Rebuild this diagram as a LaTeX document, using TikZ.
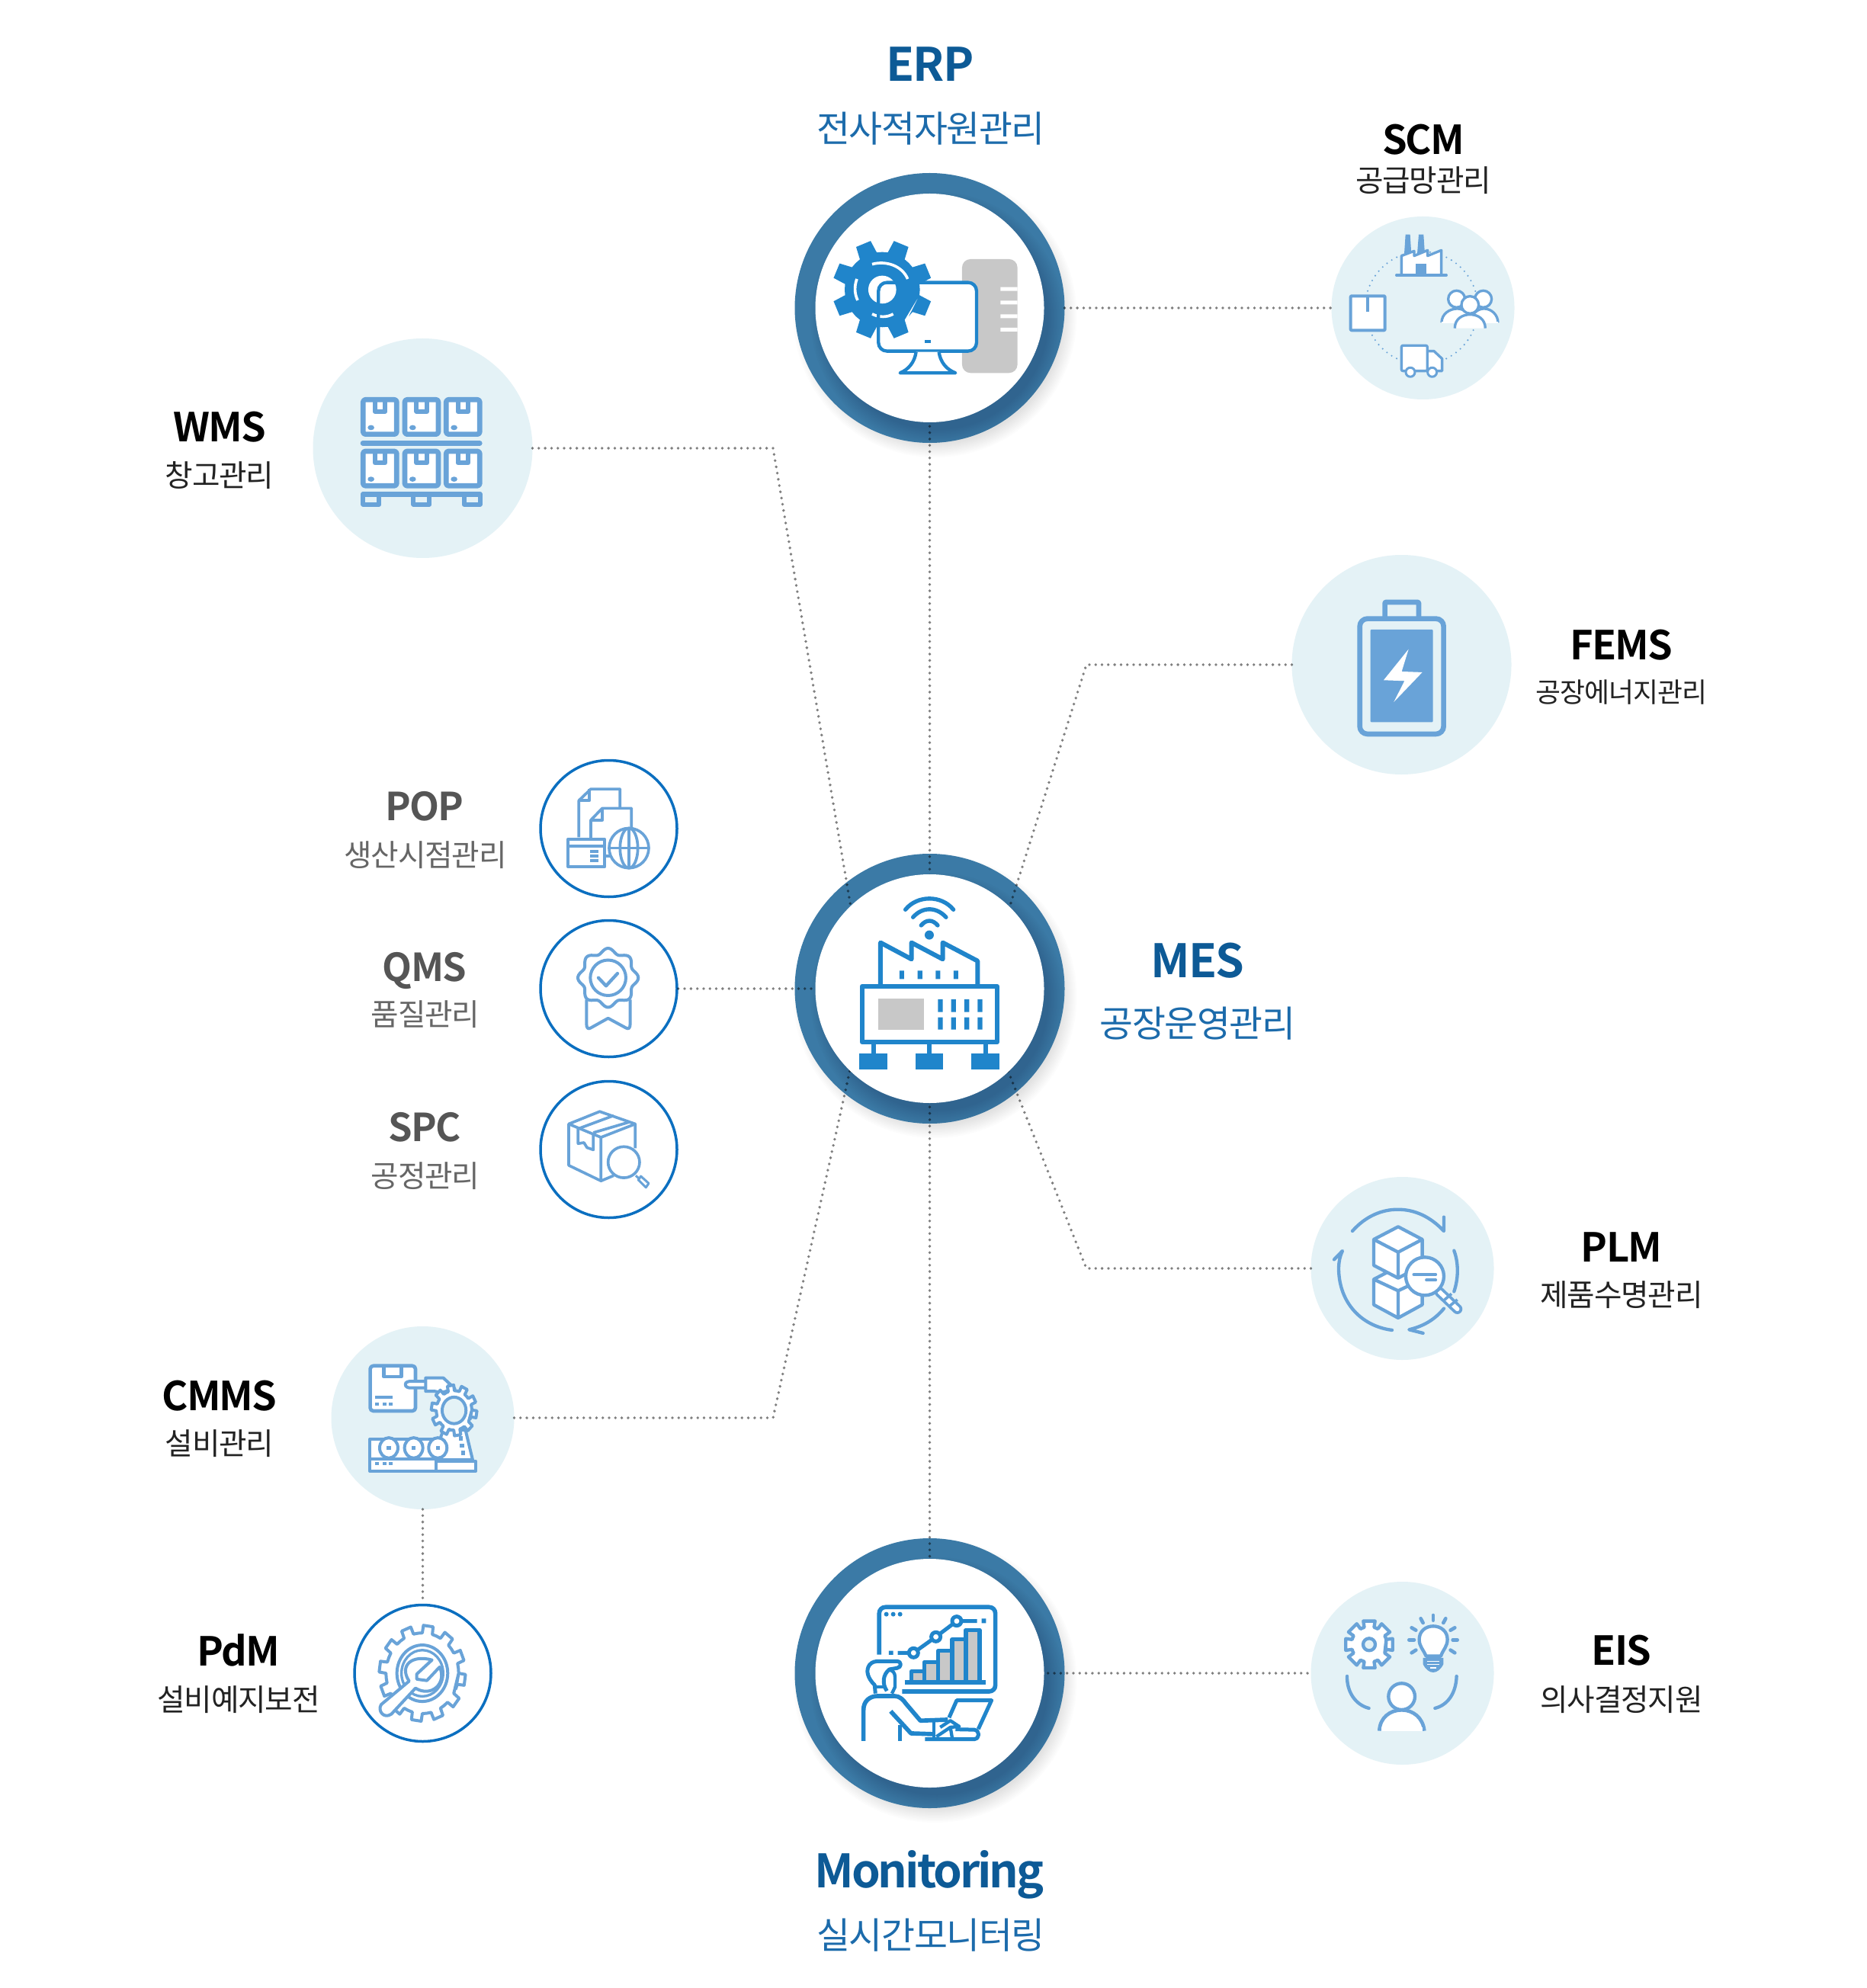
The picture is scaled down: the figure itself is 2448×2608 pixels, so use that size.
\documentclass[tikz,border=0pt]{standalone}
\usepackage{fontspec}
\setmainfont{Noto Sans CJK KR}
\newfontfamily\headfont[LetterSpace=-3.5]{Noto Sans CJK KR Bold}
\newfontfamily\monfont[LetterSpace=-5]{Noto Sans CJK KR Bold}
\newfontfamily\subfont[LetterSpace=-3]{Noto Sans CJK KR}
\definecolor{ringc}{HTML}{3B7AA6}
\definecolor{ringd}{HTML}{12304F}
\definecolor{lightc}{HTML}{E4F2F6}
\definecolor{iconl}{HTML}{69A3D8}
\definecolor{icond}{HTML}{2085CB}
\definecolor{outl}{HTML}{0B6FC0}
\definecolor{grayf}{HTML}{C8C8C8}
\definecolor{headb}{HTML}{0D5A96}
\definecolor{subb}{HTML}{1C6BAB}
\definecolor{headg}{HTML}{555555}
\definecolor{subg}{HTML}{666666}
\definecolor{subk}{HTML}{222222}
\tikzset{
  zoomed/.style={x=0.03333mm,y=-0.03333mm},
  w/.style={line width=#1*0.03333mm},
  ringnode/.style={circle,fill=ringc,minimum size=35.4mm,inner sep=0pt,outer sep=0pt},
  whited/.style={circle,fill=white,minimum size=30mm,inner sep=0pt,outer sep=0pt},
  lightbig/.style={circle,fill=lightc,minimum size=28.8mm,inner sep=0pt,outer sep=0pt},
  lightsmall/.style={circle,fill=lightc,minimum size=24mm,inner sep=0pt,outer sep=0pt},
  outlined/.style={circle,draw=outl,line width=.35mm,fill=white,minimum size=17.9mm,inner sep=0pt},
  conn/.style={draw=black,draw opacity=.5,line width=.38mm,line cap=round,dash pattern=on 0pt off .83mm},
  tA/.style={inner sep=0pt,yshift=-.15mm,text=headb,font=\headfont\fontsize{17.2}{18}\selectfont},
  sA/.style={inner sep=0pt,yshift=-.25mm,text=subb,font=\subfont\fontsize{13.6}{16}\selectfont},
  tB/.style={inner sep=0pt,yshift=-.1mm,text=black,font=\headfont\fontsize{14.9}{16}\selectfont},
  sB/.style={inner sep=0pt,yshift=-.2mm,text=subk,font=\subfont\fontsize{11.3}{14}\selectfont},
  tC/.style={inner sep=0pt,yshift=-.1mm,text=headg,font=\headfont\fontsize{14.4}{16}\selectfont},
  sC/.style={inner sep=0pt,yshift=-.2mm,text=subg,font=\subfont\fontsize{11.3}{14}\selectfont},
  li/.style={draw=iconl,line join=round,w=#1},
  da/.style={draw=icond,line join=round,w=#1},
}
\newcommand\gearpath[6]{(#4-#5:#1) \foreach[evaluate=\k as \a using #4+360/#3*\k] \k in {1,...,#3}{ -- (\a-#5:#1) -- (\a-#6:#2) -- (\a+#6:#2) -- (\a+#5:#1) -- (\a+180/#3:#1) } -- cycle}
\newcommand\bigring[3]{%
  \foreach \r in {0,2,...,18}{\fill[black,opacity=.012] (#2+7,#3+10) circle (168+\r);}
  \node[ringnode] (#1) at (#2,#3) {};
  \begin{scope}
    \clip (#2,#3) circle (177);
    \foreach \r in {0,2,...,20}{\fill[ringd,opacity=.024] (#2+10,#3+14) circle (146+\r);}
  \end{scope}}
\begin{document}
\begin{tikzpicture}[x=0.1mm,y=-0.1mm]
\useasboundingbox (0,0) rectangle (2448,2608);
\fill[white] (0,0) rectangle (2448,2608);
% circles under the connectors
\bigring{erp}{1219.5}{404}
\bigring{mes}{1219.5}{1297}
\bigring{mon}{1219.5}{2195}
\node[lightsmall] (scm) at (1866.5,404) {};
\node[lightbig] (wms) at (554.5,588) {};
\node[lightbig] (fems) at (1838.5,872) {};
\node[lightsmall] (plm) at (1839.5,1664) {};
\node[lightsmall] (eis) at (1839.5,2195) {};
\node[lightsmall] (cmms) at (554.5,1860) {};
\node[outlined] (pop) at (798.5,1087) {};
\node[outlined] (qms) at (798.5,1297) {};
\node[outlined] (spc) at (798.5,1508) {};
\node[outlined] (pdm) at (554.5,2195) {};
% connectors
\coordinate (b1) at (1014,588);
\coordinate (b2) at (1425,872);
\coordinate (b3) at (1425,1664);
\coordinate (b4) at (1014,1860);
\draw[conn] (erp.east) -- (scm.west);
\draw[conn,shorten <=-3mm,shorten >=-3mm] (erp.south) -- (mes.north);
\draw[conn,shorten <=-3mm,shorten >=-3mm] (mes.south) -- (mon.north);
\draw[conn,shorten >=-3.5mm] (wms.east) -- (b1) -- (mes.128);
\draw[conn,shorten >=-3.5mm] (fems.west) -- (b2) -- (mes.50.5);
\draw[conn,shorten >=-3.5mm] (plm.west) -- (b3) -- (mes.-50.3);
\draw[conn,shorten >=-3.5mm] (cmms.east) -- (b4) -- (mes.231.6);
\draw[conn,shorten >=-3mm] (qms.east) -- (mes.west);
\draw[conn,shorten <=-3mm] (mon.east) -- (eis.west);
\draw[conn] (cmms.south) -- (pdm.north);
\node[whited] (erpw) at (erp.center) {};
\node[whited] (mesw) at (mes.center) {};
\node[whited] (monw) at (mon.center) {};
% ERP icon
\begin{scope}[shift={(1020,210)},zoomed]
\fill[grayf,rounded corners=1.1mm] (726,390) rectangle (944,838);
\fill[white] (877,500) rectangle (944,515) (877,553) rectangle (944,568) (877,607) rectangle (944,622) (877,660) rectangle (944,675);
\fill[white,rounded corners=1.1mm] (397,482) rectangle (783,752);
\fill[icond,shift={(412,510)}] \gearpath{148}{197}{8}{22.5}{14}{9};
\draw[white,w=11] (372,410) .. controls (425,395) and (490,415) .. (512,468);
\draw[white,w=11] (312,468) .. controls (302,495) and (302,525) .. (315,552);
\draw[white,w=11] (372,606) .. controls (400,620) and (430,620) .. (455,606);
\fill[white] (412,510) circle (55);
\draw[da=13,rounded corners=1.1mm] (397,482) rectangle (783,752);
\fill[icond] (579,708) rectangle (602,720);
\draw[da=13,fill=white] (545,755) .. controls (540,795) and (515,825) .. (482,838) -- (700,838) .. controls (665,825) and (640,795) .. (635,755);
\end{scope}
% MES icon
\begin{scope}[shift={(1020,1100)},zoomed]
\draw[icond,w=16,line cap=round] (503,280) .. controls (550,222) and (645,222) .. (692,280);
\draw[icond,w=16,line cap=round] (533,310) .. controls (570,268) and (625,268) .. (663,310);
\draw[icond,w=16,line cap=round] (565,342) .. controls (585,318) and (610,318) .. (630,342);
\fill[icond] (597,380) circle (18);
\draw[da=18] (405,575) -- (405,410) -- (527,475) -- (527,410) -- (650,475) -- (650,410) -- (787,482) -- (787,575);
\fill[icond] (480,520) rectangle (498,553) (551,520) rectangle (570,553) (622,520) rectangle (640,553) (693,520) rectangle (711,553);
\draw[da=18] (332,582) rectangle (864,802);
\fill[grayf] (396,630) rectangle (576,752);
\foreach \x in {631,683,735,787}{\fill[icond] (\x,633) rectangle (\x+19,683) (\x,704) rectangle (\x+19,752);}
\foreach \x in {377,597,818}{
  \draw[da=18] (\x,802) -- (\x,850);
  \fill[icond] (\x-55,845) rectangle (\x+55,908);}
\end{scope}
% Monitoring icon
\begin{scope}[shift={(1020,2000)},zoomed]
\draw[da=17,rounded corners=.8mm] (400,512) -- (400,325) -- (857,325) -- (857,657) -- (490,657);
\foreach \x in {428,455,482}{\fill[icond] (\x,353) circle (9);}
\fill[icond] (438,497) rectangle (455,513) (803,370) rectangle (820,388);
\foreach \x/\y in {527/578,578/541,632/497,687/452,741/415}{\draw[da=16,fill=grayf] (\x,621) -- (\x,\y) -- (\x+54,\y) -- (\x+54,621);}
\draw[da=17] (500,621) -- (820,621);
\draw[da=15] (473,505) -- (535,505) -- (623,442) -- (705,380) -- (785,380);
\foreach \x/\y in {535/505,623/442,705/380}{\draw[da=15,fill=white] (\x,\y) circle (18);}
\draw[da=15] (385,665) -- (382,632) .. controls (355,605) and (345,575) .. (362,552) .. controls (372,540) and (385,538) .. (400,538) -- (470,538) .. controls (490,540) and (488,562) .. (470,565) -- (440,570) .. controls (415,590) and (410,625) .. (430,655);
\draw[da=13] (440,572) .. controls (455,575) and (462,585) .. (462,600) -- (462,640) -- (450,665);
\draw[da=13] (385,640) -- (425,640);
\draw[da=17] (338,852) -- (338,730) .. controls (338,695) and (362,675) .. (395,675) -- (460,675) .. controls (480,675) and (495,690) .. (505,705) -- (562,772) -- (670,768);
\draw[da=17] (445,735) -- (525,822) -- (615,825);
\draw[da=17] (482,790) -- (482,852);
\draw[da=15] (675,760) -- (705,692) -- (842,692) -- (790,805);
\draw[da=15,rounded corners=.5mm] (580,845) -- (790,845) -- (790,808) -- (700,806);
\draw[da=13] (615,770) -- (615,845);
\draw[da=13] (640,798) -- (680,772) -- (715,795) -- (680,798);
\draw[da=13] (625,835) -- (680,798) -- (688,845);
\end{scope}
% SCM icon
\begin{scope}[shift={(1720,270)},zoomed]
\draw[iconl,w=7,line cap=round,dash pattern=on 0pt off .75mm] (434,402) circle (222);
\fill[iconl] (366,190) -- (371,113) -- (389,113) -- (394,190) -- cycle (417,190) -- (423,113) -- (442,113) -- (447,190) -- cycle;
\draw[li=10,fill=white] (355,273) -- (355,197) -- (405,178) -- (405,197) -- (458,175) -- (458,197) -- (512,175) -- (512,273) -- cycle;
\fill[iconl] (412,227) rectangle (453,270);
\draw[li=10,line cap=round] (335,273) -- (532,273);
\draw[li=12,fill=white,rounded corners=.1mm] (155,355) rectangle (290,490);
\draw[li=12] (222,358) -- (222,416);
\draw[li=10,fill=white] (572,367) circle (33);
\draw[li=10,fill=white] (677,367) circle (33);
\draw[li=10,fill=white] (513,460) .. controls (513,425) and (545,405) .. (575,405) .. controls (600,405) and (630,425) .. (635,460);
\draw[li=10,fill=white] (625,460) .. controls (630,425) and (655,405) .. (680,405) .. controls (710,405) and (735,430) .. (735,460);
\fill[white] (513,455) rectangle (735,461);
\draw[li=10,fill=white] (625,390) circle (34);
\draw[li=10,fill=white] (565,482) .. controls (565,445) and (595,428) .. (625,428) .. controls (655,428) and (685,445) .. (685,482);
\draw[li=10,fill=white] (457,572) -- (483,572) -- (515,602) -- (515,650) -- (457,650) -- cycle;
\draw[li=10,fill=white,rounded corners=.2mm] (355,550) rectangle (457,650);
\draw[li=9,fill=white] (390,655) circle (18);
\draw[li=9,fill=white] (476,655) circle (18);
\end{scope}
% WMS icon
\begin{scope}[shift={(400,430)},zoomed]
\foreach \y in {283,486}{\foreach \x in {229,393,556}{
  \draw[li=20,fill=white,rounded corners=.3mm] (\x,\y) rectangle (\x+132,\y+136);
  \draw[li=18] (\x+46,\y) -- (\x+46,\y+46) -- (\x+87,\y+46) -- (\x+87,\y);
  \fill[iconl] (\x+31,\y+110) ellipse [x radius=13,y radius=10];}}
\draw[li=20,line cap=round] (228,454) -- (688,454);
\draw[li=20] (228,655) -- (688,655);
\foreach \x in {229,427,626}{\draw[li=18] (\x,655) rectangle (\x+63,695);}
\end{scope}
% FEMS icon
\begin{scope}[shift={(1680,720)},zoomed]
\draw[li=20,rounded corners=.1mm] (410,275) -- (410,210) -- (543,210) -- (543,275);
\draw[li=20,rounded corners=1mm] (311,275) rectangle (641,729);
\fill[iconl,rounded corners=.1mm] (353,318) rectangle (599,682);
\fill[white] (503,395) -- (405,517) -- (487,520) -- (445,603) -- (557,486) -- (476,483) -- cycle;
\end{scope}
% PLM icon
\begin{scope}[shift={(1700,1530)},zoomed]
\draw[iconl,w=13,line cap=round,line join=round] (222,255) .. controls (275,195) and (340,170) .. (400,170) .. controls (470,170) and (530,200) .. (582,255) -- (582,200);
\draw[iconl,w=13,line cap=round,line join=round] (378,645) .. controls (260,630) and (170,540) .. (168,405) .. controls (168,380) and (172,355) .. (183,333) -- (150,367);
\draw[iconl,w=13,line cap=round] (622,332) .. controls (640,380) and (640,440) .. (622,493);
\draw[iconl,w=13,line cap=round,line join=round] (582,560) .. controls (545,605) and (500,630) .. (445,643) -- (500,657);
\draw[li=13,fill=white] (306,445) -- (402,395) -- (497,445) -- (497,545) -- (402,597) -- (306,545) -- cycle;
\draw[li=13] (306,445) -- (402,490) -- (497,445) (402,490) -- (402,597);
\draw[li=13,fill=white] (402,238) -- (497,288) -- (497,390) -- (402,440) -- (306,390) -- (306,288) -- cycle;
\draw[li=13] (306,288) -- (402,338) -- (497,288) (402,338) -- (402,440);
\draw[iconl,w=40,line cap=round] (565,495) -- (635,562);
\draw[white,w=17,line cap=round] (565,495) -- (635,562);
\draw[iconl,w=11] (582,528) -- (612,502) (605,550) -- (635,525);
\draw[li=13,fill=white] (507,433) circle (75);
\draw[li=11,line cap=round] (463,426) -- (550,426) (513,448) -- (550,448);
\end{scope}
% EIS icon
\begin{scope}[shift={(1700,2060)},zoomed]
\draw[li=13,fill=white,shift={(288,292)}] \gearpath{70}{95}{8}{0}{16}{14};
\draw[li=13,fill=lightc] (288,292) circle (24);
\draw[li=13,fill=white] (512,338) .. controls (500,310) and (485,300) .. (485,272) .. controls (485,240) and (510,220) .. (540,220) .. controls (570,220) and (596,240) .. (596,272) .. controls (596,300) and (580,310) .. (570,338) -- cycle;
\fill[iconl] (500,345) -- (580,345) -- (580,370) .. controls (570,390) and (555,402) .. (540,402) .. controls (525,402) and (510,390) .. (500,370) -- cycle;
\draw[white,w=4] (515,358) -- (565,358) (515,370) -- (565,370);
\draw[white,w=5] (528,384) -- (552,384);
\foreach \a/\b/\c/\d in {540/177/540/197,491/190/500/207,589/190/580/207,455/226/472/236,625/226/608/236,445/274/465/274,635/274/617/274,455/325/472/314,625/325/608/314}{\draw[li=14,line cap=round] (\a,\b) -- (\c,\d);}
\draw[li=13,line cap=round] (201,417) .. controls (200,480) and (235,530) .. (287,543);
\draw[li=13,line cap=round] (632,417) .. controls (630,480) and (600,530) .. (547,543);
\draw[li=14,fill=white] (328,632) .. controls (330,580) and (370,550) .. (416,550) .. controls (460,550) and (500,580) .. (505,632);
\fill[white] (335,632) rectangle (498,618);
\draw[li=13,fill=white] (416,497) circle (52);
\end{scope}
% POP, QMS, SPC icons
\begin{scope}[shift={(690,980)},x=0.03333mm,y=-0.0408mm]
\draw[li=11] (208,290) -- (208,172) -- (255,135) -- (370,135) -- (370,195);
\draw[li=11] (208,172) -- (250,172) -- (250,135);
\draw[li=11] (255,295) -- (255,235) -- (300,197) -- (415,197) -- (415,265);
\draw[li=11] (255,235) -- (300,235) -- (300,197);
\draw[li=11] (165,297) rectangle (310,385);
\draw[li=11] (165,318) -- (310,318);
\foreach \y in {335,350,365}{\fill[iconl] (252,\y-5) rectangle (285,\y+5);}
\draw[li=11] (310,350) -- (335,350);
\draw[li=11,fill=white] (405,325) ellipse [x radius=78,y radius=64];
\draw[li=11] (405,325) ellipse [x radius=35,y radius=64];
\draw[li=11] (405,261) -- (405,389) (327,325) -- (483,325);
% QMS
\draw[li=12] plot[smooth cycle,samples=97,domain=0:356.25] ({323+(110-9*cos(8*\x+180))*cos(\x)},{742+(87-8*cos(8*\x+180))*sin(\x)});
\draw[li=12] (323,742) ellipse [x radius=70,y radius=57];
\draw[li=13,line cap=round] (285,742) -- (315,768) -- (360,728);
\draw[li=12] (238,812) -- (238,890) .. controls (238,905) and (245,908) .. (255,903) -- (323,872) -- (393,903) .. controls (403,908) and (410,905) .. (410,890) -- (410,812);
% SPC
\draw[li=11] (168,1212) -- (295,1255) -- (430,1212) -- (290,1172) -- cycle;
\draw[li=11] (168,1212) -- (168,1345) -- (295,1395) -- (295,1255);
\draw[li=11] (430,1212) -- (430,1290) (295,1395) -- (345,1378);
\draw[li=11] (210,1226) -- (345,1185) (265,1240) -- (410,1205);
\draw[li=11] (205,1228) -- (205,1275) -- (228,1272) -- (240,1288) -- (265,1295) -- (265,1245);
\draw[li=11,fill=white] (385,1335) ellipse [x radius=62,y radius=50];
\draw[li=9] (432,1378) -- (448,1390);
\draw[li=9,fill=white] (452,1380) -- (483,1403) -- (472,1416) -- (442,1392) -- cycle;
\end{scope}
% CMMS, PdM icons
\begin{scope}[shift={(420,1730)},x=0.03333mm,y=-0.037mm]
\draw[li=14,fill=white,rounded corners=.4mm] (197,167) rectangle (375,327);
\draw[li=14] (250,170) -- (250,205) -- (320,205) -- (320,170);
\draw[li=12] (217,278) -- (285,278);
\foreach \x in {217,245,270}{\fill[iconl] (\x,296) rectangle (\x+15,308);}
\draw[li=12,fill=white,rounded corners=.3mm] (415,222) -- (342,222) -- (332,233) -- (342,245) -- (415,245);
\draw[li=12,fill=white] (415,210) -- (485,210) -- (530,248) -- (478,262) -- (450,257) -- (415,257) -- cycle;
\draw[li=12,fill=white] (485,395) -- (470,430) -- (470,500) -- (600,500) -- (572,395) -- cycle;
\draw[li=12,fill=white,shift={(527,325)}] \gearpath{70}{90}{10}{9}{10}{8};
\draw[li=12,fill=lightc] (527,325) ellipse [x radius=47,y radius=47];
\foreach \x/\y in {553/425,558/450,562/475}{\fill[iconl] (\x-8,\y-8) rectangle (\x+8,\y+8);}
\draw[li=12,fill=white] (195,427) -- (475,427) -- (475,497) -- (195,497) -- cycle;
\foreach \x in {270,368,463}{\draw[li=12,fill=white] (\x,458) ellipse [x radius=36,y radius=36];\fill[iconl] (\x-8,450) rectangle (\x+8,466);}
\draw[li=12,fill=white] (195,497) rectangle (455,540);
\draw[li=12,fill=white] (455,505) rectangle (612,540);
\foreach \x in {217,245,270}{\fill[iconl] (\x,507) rectangle (\x+15,519);}
% PdM
\draw[li=12,fill=white,shift={(402,1257)}] \gearpath{143}{170}{12}{8}{8}{6.5};
\draw[li=12] (402,1257) ellipse [x radius=100,y radius=100];
\draw[li=10] (402,1257) ellipse [x radius=82,y radius=82];
\draw[li=12,fill=white,line join=round] (240,1368) -- (350,1285) .. controls (310,1230) and (360,1190) .. (440,1210) -- (380,1260) -- (380,1278) -- (420,1283) -- (470,1235) .. controls (500,1290) and (440,1345) .. (375,1310) -- (280,1402) .. controls (250,1420) and (225,1390) .. (240,1368) -- cycle;
\end{scope}
% labels
\node[tA] (tErp) at (1220,83) {ERP};
\node[sA] (sErp) at (1221,166) {전사적자원관리};
\node[tB] (tScm) at (1867,182) {SCM};
\node[sB] (sScm) at (1867,235) {공급망관리};
\node[tB] (tWms) at (288,559) {WMS};
\node[sB] (sWms) at (288,622) {창고관리};
\node[tB] (tFems) at (2127,845) {FEMS};
\node[sB,font=\subfont\fontsize{10.2}{14}\selectfont] (sFems) at (2127,906) {공장에너지관리};
\node[tC] (tPop) at (557,1057) {POP};
\node[sC] (sPop) at (558,1120) {생산시점관리};
\node[tC] (tQms) at (557,1272) {QMS};
\node[sC] (sQms) at (558,1329) {품질관리};
\node[tC] (tSpc) at (557,1478) {SPC};
\node[sC] (sSpc) at (558,1541) {공정관리};
\node[tA] (tMes) at (1571,1259) {MES};
\node[sA] (sMes) at (1571,1340) {공장운영관리};
\node[tB] (tPlm) at (2127,1635) {PLM};
\node[sB] (sPlm) at (2127,1697) {제품수명관리};
\node[tB] (tCmms) at (288,1830) {CMMS};
\node[sB] (sCmms) at (288,1892) {설비관리};
\node[tB] (tPdm) at (313,2164) {PdM};
\node[sB] (sPdm) at (313,2228) {설비예지보전};
\node[tB] (tEis) at (2127,2164) {EIS};
\node[sB] (sEis) at (2127,2228) {의사결정지원};
\node[tA,font=\monfont\fontsize{17.2}{18}\selectfont] (tMon) at (1219,2458) {Monitoring};
\node[sA] (sMon) at (1221,2536) {실시간모니터링};
\end{tikzpicture}
\end{document}
